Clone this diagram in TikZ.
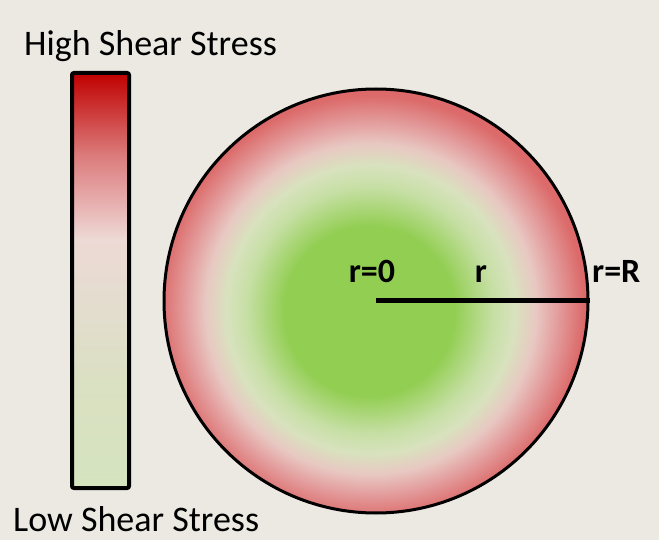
\documentclass[tikz,border=0pt]{standalone}
\usepackage{fontspec}
\setmainfont{Carlito}
\usetikzlibrary{positioning}

\definecolor{paper}{HTML}{ECE9E2}
\definecolor{hired}{HTML}{C00000}
\definecolor{midred}{HTML}{DC7C7C}
\definecolor{palered}{HTML}{E6A9A9}
\definecolor{palepink}{HTML}{EDD9D5}
\definecolor{beige}{HTML}{E5DCD0}
\definecolor{palegreen}{HTML}{DAE0C2}
\definecolor{logreen}{HTML}{D5E4BF}
\definecolor{coregreen}{HTML}{92CE52}
\definecolor{ringgreen}{HTML}{C6DFA4}
\definecolor{ringpale}{HTML}{D8E2BE}
\definecolor{ringpink}{HTML}{E8C8C2}
\definecolor{ringred}{HTML}{E39C9C}
\definecolor{rimred}{HTML}{DC6A6A}

% the path box is mapped onto 25bp..75bp (bar) and radius 25bp (disc)
\pgfdeclareverticalshading{stressbar}{100bp}{%
  color(0bp)=(logreen); color(25bp)=(logreen); color(37.5bp)=(palegreen);
  color(48.5bp)=(beige); color(55bp)=(palepink); color(60bp)=(palered);
  color(65bp)=(midred); color(75bp)=(hired); color(100bp)=(hired)}
\pgfdeclareradialshading{stressdisc}{\pgfpoint{-1bp}{-1.5bp}}{%
  color(0bp)=(coregreen); color(10bp)=(coregreen); color(14.5bp)=(ringgreen);
  color(17bp)=(ringpale); color(19.5bp)=(ringpink); color(22bp)=(ringred);
  color(25bp)=(rimred); color(50bp)=(rimred)}

\begin{document}
\begin{tikzpicture}[x=1pt,y=-1pt]
\tikzset{
  caption/.style={font=\fontsize{36}{40}\selectfont,text=black,inner sep=0pt},
  rlabel/.style={font=\fontsize{34}{38}\selectfont\bfseries,text=black,inner sep=0pt},
  barbox/.style={draw=black,line width=4pt,rounded corners=2pt,shading=stressbar},
  disc/.style={circle,draw=black,line width=3pt,minimum size=424pt,inner sep=0pt,shading=stressdisc},
  radius line/.style={line width=5pt,draw=black}
}
% page
\fill[paper] (0,0) rectangle (659,540);
\useasboundingbox (0,0) rectangle (659,540);

% colour scale
\shade[barbox] (72,73) rectangle (129,488);
\node[caption,anchor=base west] (n_high) at (24,56) {High Shear Stress};
\node[caption,anchor=base west] (n_low) at (13,531) {Low Shear Stress};

% vessel cross-section
\node[disc] (n_disc) at (376,301) {};
\coordinate (n_ctr) at (n_disc.center);
\draw[radius line] (n_ctr) -- (n_disc.east);
\node[rlabel,anchor=base] (n_r0) at (372,283) {r=0};
\node[rlabel,anchor=base] (n_r) at (481,283) {r};
\node[rlabel,anchor=base west] (n_rR) at (592,283) {r=R};
\end{tikzpicture}
\end{document}
